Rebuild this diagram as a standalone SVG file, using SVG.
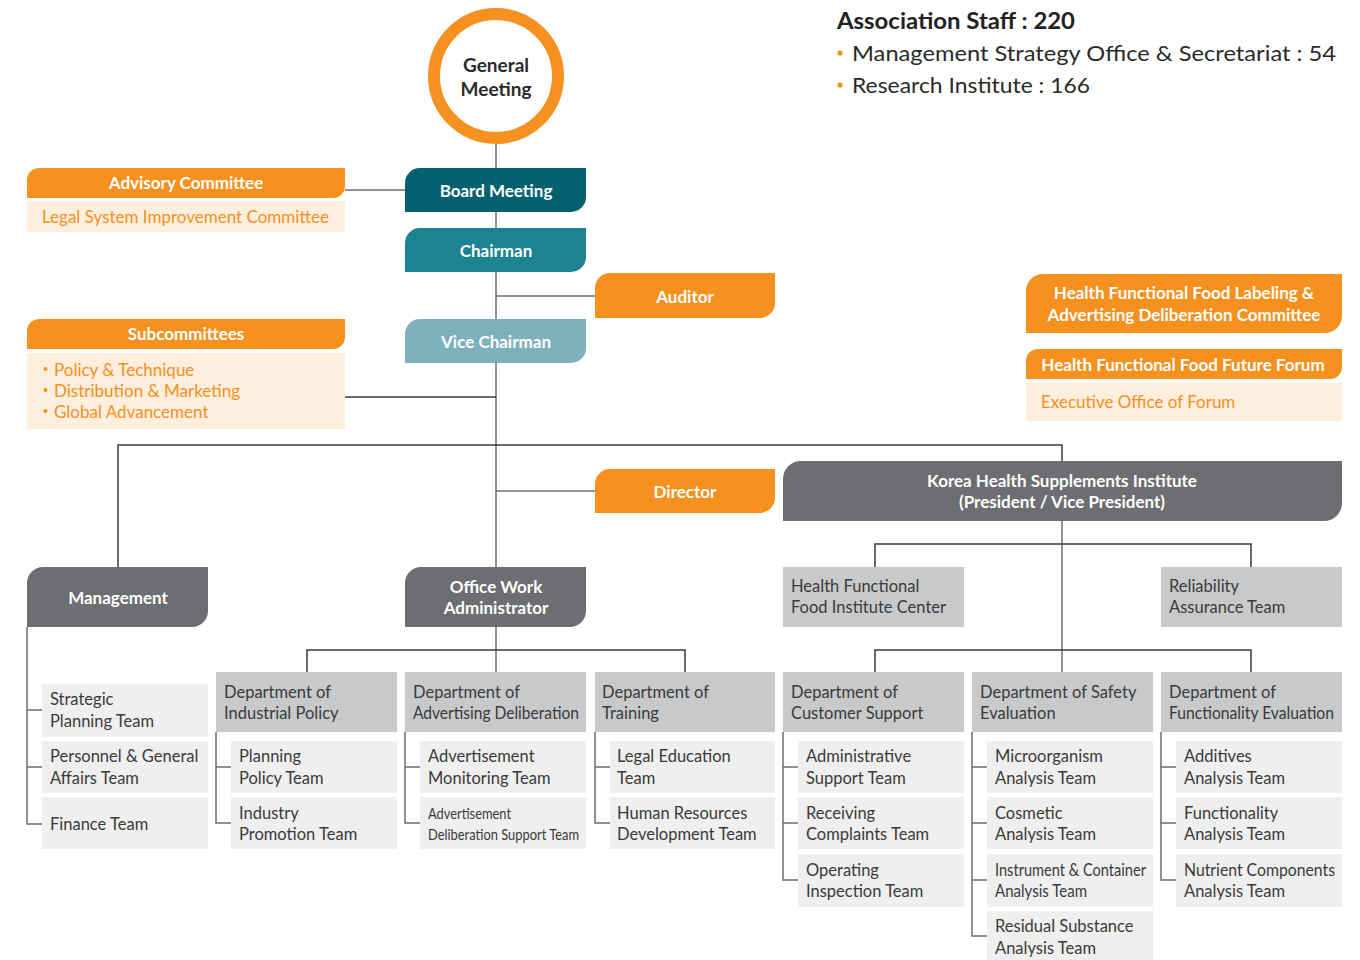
<svg xmlns="http://www.w3.org/2000/svg" width="1360" height="960" viewBox="0 0 1360 960">
<style>
text{font-family:Lato,"Liberation Sans",sans-serif;dominant-baseline:central}
.hd{font-weight:700;font-size:17px;fill:#fff;text-anchor:middle}
.pe{font-size:17px;fill:#f6901e}
.tx{font-size:16.5px;fill:#3a3a3a}
.ln{stroke:#3a3a3a;stroke-width:1.5;fill:none}
.tr{stroke:#6d6e71;stroke-width:1.5;fill:none}
.or{fill:#f6901e}
.pc{fill:#fdeedd}
.dg{fill:#6d6e71}
.dp{fill:#c8c9cb}
.tm{fill:#efefef}
</style>
<rect width="1360" height="960" fill="#fff"/>
<g id="connectors">
  <path class="tr" d="M496 144 V672"/>
  <path class="tr" d="M345 190 H405"/>
  <path class="tr" d="M496 296 H595"/>
  <path class="ln" d="M345 397 H496"/>
  <path class="ln" d="M118 567 V445 H1062 V461"/>
  <path class="tr" d="M496 491 H595"/>
  <path class="tr" d="M1062 521 V672"/>
  <path class="ln" d="M875 567 V544 H1251 V567"/>
  <path class="ln" d="M875 672 V650 H1251 V672"/>
  <path class="ln" d="M307 672 V650 H685 V672"/>
  <path class="tr" d="M27 627 V824 H42 M27 710 H42 M27 767 H42"/>
  <path class="tr" d="M216 732 V823 H231 M216 767 H231"/>
  <path class="tr" d="M405 732 V823 H420 M405 767 H420"/>
  <path class="tr" d="M595 732 V823 H610 M595 767 H610"/>
  <path class="tr" d="M783 732 V880 H798 M783 767 H798 M783 823 H798"/>
  <path class="tr" d="M972 732 V936 H987 M972 767 H987 M972 823 H987 M972 880 H987"/>
  <path class="tr" d="M1161 732 V880 H1176 M1161 767 H1176 M1161 823 H1176"/>
</g>
<g id="staff">
  <text x="837" y="20" textLength="238" lengthAdjust="spacingAndGlyphs" style="font-weight:700;font-size:22px;fill:#222">Association Staff : 220</text>
  <circle cx="840" cy="53" r="2.6" class="or"/>
  <text x="852" y="52" textLength="484" lengthAdjust="spacingAndGlyphs" style="font-size:22px;fill:#2a2a2a">Management Strategy Office &amp; Secretariat : 54</text>
  <circle cx="840" cy="85" r="2.6" class="or"/>
  <text x="852" y="84" textLength="238" lengthAdjust="spacingAndGlyphs" style="font-size:22px;fill:#2a2a2a">Research Institute : 166</text>
</g>
<g id="general-meeting">
  <circle cx="496" cy="76" r="62" fill="#fff" stroke="#f6901e" stroke-width="12"/>
  <text x="496" y="64" style="font-weight:700;font-size:19px;fill:#2a2a2a;text-anchor:middle">General</text>
  <text x="496" y="88" style="font-weight:700;font-size:19px;fill:#2a2a2a;text-anchor:middle">Meeting</text>
</g>
<g id="advisory-committee">
  <path class="or" d="M39 168 H345 V186 A12 12 0 0 1 333 198 H27 V180 A12 12 0 0 1 39 168 Z"/>
  <text class="hd" x="186" y="182">Advisory Committee</text>
  <rect class="pc" x="27" y="201" width="318" height="31"/>
  <text class="pe" x="42" y="216">Legal System Improvement Committee</text>
</g>
<g id="board-meeting">
  <path fill="#03616f" d="M420 168 H586 V197 A15 15 0 0 1 571 212 H405 V183 A15 15 0 0 1 420 168 Z"/>
  <text class="hd" x="496" y="190">Board Meeting</text>
</g>
<g id="chairman">
  <path fill="#1c8391" d="M420 228 H586 V257 A15 15 0 0 1 571 272 H405 V243 A15 15 0 0 1 420 228 Z"/>
  <text class="hd" x="496" y="250">Chairman</text>
</g>
<g id="auditor">
  <path class="or" d="M610 273 H775 V303 A15 15 0 0 1 760 318 H595 V288 A15 15 0 0 1 610 273 Z"/>
  <text class="hd" x="685" y="296">Auditor</text>
</g>
<g id="vice-chairman">
  <path fill="#7fb1bc" d="M420 319 H586 V348 A15 15 0 0 1 571 363 H405 V334 A15 15 0 0 1 420 319 Z"/>
  <text class="hd" x="496" y="341">Vice Chairman</text>
</g>
<g id="subcommittees">
  <path class="or" d="M39 319 H345 V337 A12 12 0 0 1 333 349 H27 V331 A12 12 0 0 1 39 319 Z"/>
  <text class="hd" x="186" y="333">Subcommittees</text>
  <rect class="pc" x="27" y="353" width="318" height="76"/>
  <circle class="or" cx="45.5" cy="369" r="2"/>
  <text class="pe" x="54" y="369">Policy &amp; Technique</text>
  <circle class="or" cx="45.5" cy="390" r="2"/>
  <text class="pe" x="54" y="390">Distribution &amp; Marketing</text>
  <circle class="or" cx="45.5" cy="411" r="2"/>
  <text class="pe" x="54" y="411">Global Advancement</text>
</g>
<g id="hff-labeling-committee">
  <path class="or" d="M1043 274 H1342 V316 A17 17 0 0 1 1325 333 H1026 V291 A17 17 0 0 1 1043 274 Z"/>
  <text class="hd" x="1184" y="292">Health Functional Food Labeling &amp;</text>
  <text class="hd" x="1184" y="314">Advertising Deliberation Committee</text>
</g>
<g id="hff-future-forum">
  <path class="or" d="M1038 349 H1342 V367 A12 12 0 0 1 1330 379 H1026 V361 A12 12 0 0 1 1038 349 Z"/>
  <text class="hd" x="1183" y="364">Health Functional Food Future Forum</text>
  <rect class="pc" x="1026" y="383" width="316" height="38"/>
  <text class="pe" x="1041" y="401">Executive Office of Forum</text>
</g>
<g id="director">
  <path class="or" d="M610 469 H775 V498 A15 15 0 0 1 760 513 H595 V484 A15 15 0 0 1 610 469 Z"/>
  <text class="hd" x="685" y="491">Director</text>
</g>
<g id="khsi">
  <path class="dg" d="M801 461 H1342 V503 A18 18 0 0 1 1324 521 H783 V479 A18 18 0 0 1 801 461 Z"/>
  <text class="hd" x="1062" y="480">Korea Health Supplements Institute</text>
  <text class="hd" x="1062" y="501">(President / Vice President)</text>
</g>
<g id="management">
  <path class="dg" d="M43 567 H208 V611 A16 16 0 0 1 192 627 H27 V583 A16 16 0 0 1 43 567 Z"/>
  <text class="hd" x="118" y="597">Management</text>
</g>
<g id="office-work-administrator">
  <path class="dg" d="M421 567 H586 V611 A16 16 0 0 1 570 627 H405 V583 A16 16 0 0 1 421 567 Z"/>
  <text class="hd" x="496" y="586">Office Work</text>
  <text class="hd" x="496" y="607">Administrator</text>
</g>
<g id="hff-institute-center">
  <rect class="dp" x="783" y="567" width="181" height="60"/>
  <text class="tx" x="791" y="586">Health Functional</text>
  <text class="tx" x="791" y="607">Food Institute Center</text>
</g>
<g id="reliability-assurance-team">
  <rect class="dp" x="1161" y="567" width="181" height="60"/>
  <text class="tx" x="1169" y="586">Reliability</text>
  <text class="tx" x="1169" y="607">Assurance Team</text>
</g>
<g id="management-teams">
  <rect class="tm" x="42" y="684" width="166" height="53"/>
  <text class="tx" x="50" y="699">Strategic</text>
  <text class="tx" x="50" y="721">Planning Team</text>
  <rect class="tm" x="42" y="741" width="166" height="52"/>
  <text class="tx" x="50" y="756">Personnel &amp; General</text>
  <text class="tx" x="50" y="778">Affairs Team</text>
  <rect class="tm" x="42" y="797" width="166" height="52"/>
  <text class="tx" x="50" y="824">Finance Team</text>
</g>
<g id="dept-industrial-policy">
  <rect class="dp" x="216" y="672" width="181" height="60"/>
  <text class="tx" x="224" y="692">Department of</text>
  <text class="tx" x="224" y="713">Industrial Policy</text>
  <rect class="tm" x="231" y="741" width="166" height="52"/>
  <text class="tx" x="239" y="756">Planning</text>
  <text class="tx" x="239" y="778">Policy Team</text>
  <rect class="tm" x="231" y="797" width="166" height="52"/>
  <text class="tx" x="239" y="813">Industry</text>
  <text class="tx" x="239" y="834">Promotion Team</text>
</g>
<g id="dept-advertising-deliberation">
  <rect class="dp" x="405" y="672" width="181" height="60"/>
  <text class="tx" x="413" y="692">Department of</text>
  <text class="tx" x="413" y="713" textLength="166" lengthAdjust="spacingAndGlyphs">Advertising Deliberation</text>
  <rect class="tm" x="420" y="741" width="166" height="52"/>
  <text class="tx" x="428" y="756">Advertisement</text>
  <text class="tx" x="428" y="778">Monitoring Team</text>
  <rect class="tm" x="420" y="797" width="166" height="52"/>
  <text class="tx" x="428" y="813" textLength="83" lengthAdjust="spacingAndGlyphs" style="font-size:15.5px">Advertisement</text>
  <text class="tx" x="428" y="834" textLength="151" lengthAdjust="spacingAndGlyphs" style="font-size:15.5px">Deliberation Support Team</text>
</g>
<g id="dept-training">
  <rect class="dp" x="595" y="672" width="180" height="60"/>
  <text class="tx" x="602" y="692">Department of</text>
  <text class="tx" x="602" y="713">Training</text>
  <rect class="tm" x="610" y="741" width="165" height="52"/>
  <text class="tx" x="617" y="756">Legal Education</text>
  <text class="tx" x="617" y="778">Team</text>
  <rect class="tm" x="610" y="797" width="165" height="52"/>
  <text class="tx" x="617" y="813">Human Resources</text>
  <text class="tx" x="617" y="834">Development Team</text>
</g>
<g id="dept-customer-support">
  <rect class="dp" x="783" y="672" width="181" height="60"/>
  <text class="tx" x="791" y="692">Department of</text>
  <text class="tx" x="791" y="713">Customer Support</text>
  <rect class="tm" x="798" y="741" width="166" height="52"/>
  <text class="tx" x="806" y="756">Administrative</text>
  <text class="tx" x="806" y="778">Support Team</text>
  <rect class="tm" x="798" y="797" width="166" height="52"/>
  <text class="tx" x="806" y="813">Receiving</text>
  <text class="tx" x="806" y="834">Complaints Team</text>
  <rect class="tm" x="798" y="854" width="166" height="53"/>
  <text class="tx" x="806" y="870">Operating</text>
  <text class="tx" x="806" y="891">Inspection Team</text>
</g>
<g id="dept-safety-evaluation">
  <rect class="dp" x="972" y="672" width="181" height="60"/>
  <text class="tx" x="980" y="692">Department of Safety</text>
  <text class="tx" x="980" y="713">Evaluation</text>
  <rect class="tm" x="987" y="741" width="166" height="52"/>
  <text class="tx" x="995" y="756">Microorganism</text>
  <text class="tx" x="995" y="778">Analysis Team</text>
  <rect class="tm" x="987" y="797" width="166" height="52"/>
  <text class="tx" x="995" y="813">Cosmetic</text>
  <text class="tx" x="995" y="834">Analysis Team</text>
  <rect class="tm" x="987" y="854" width="166" height="53"/>
  <text class="tx" x="995" y="870" textLength="151" lengthAdjust="spacingAndGlyphs">Instrument &amp; Container</text>
  <text class="tx" x="995" y="891" textLength="92" lengthAdjust="spacingAndGlyphs">Analysis Team</text>
  <rect class="tm" x="987" y="911" width="166" height="49"/>
  <text class="tx" x="995" y="926">Residual Substance</text>
  <text class="tx" x="995" y="948">Analysis Team</text>
</g>
<g id="dept-functionality-evaluation">
  <rect class="dp" x="1161" y="672" width="181" height="60"/>
  <text class="tx" x="1169" y="692">Department of</text>
  <text class="tx" x="1169" y="713" textLength="165" lengthAdjust="spacingAndGlyphs">Functionality Evaluation</text>
  <rect class="tm" x="1176" y="741" width="166" height="52"/>
  <text class="tx" x="1184" y="756">Additives</text>
  <text class="tx" x="1184" y="778">Analysis Team</text>
  <rect class="tm" x="1176" y="797" width="166" height="52"/>
  <text class="tx" x="1184" y="813">Functionality</text>
  <text class="tx" x="1184" y="834">Analysis Team</text>
  <rect class="tm" x="1176" y="854" width="166" height="53"/>
  <text class="tx" x="1184" y="870" textLength="151" lengthAdjust="spacingAndGlyphs">Nutrient Components</text>
  <text class="tx" x="1184" y="891">Analysis Team</text>
</g>
</svg>
